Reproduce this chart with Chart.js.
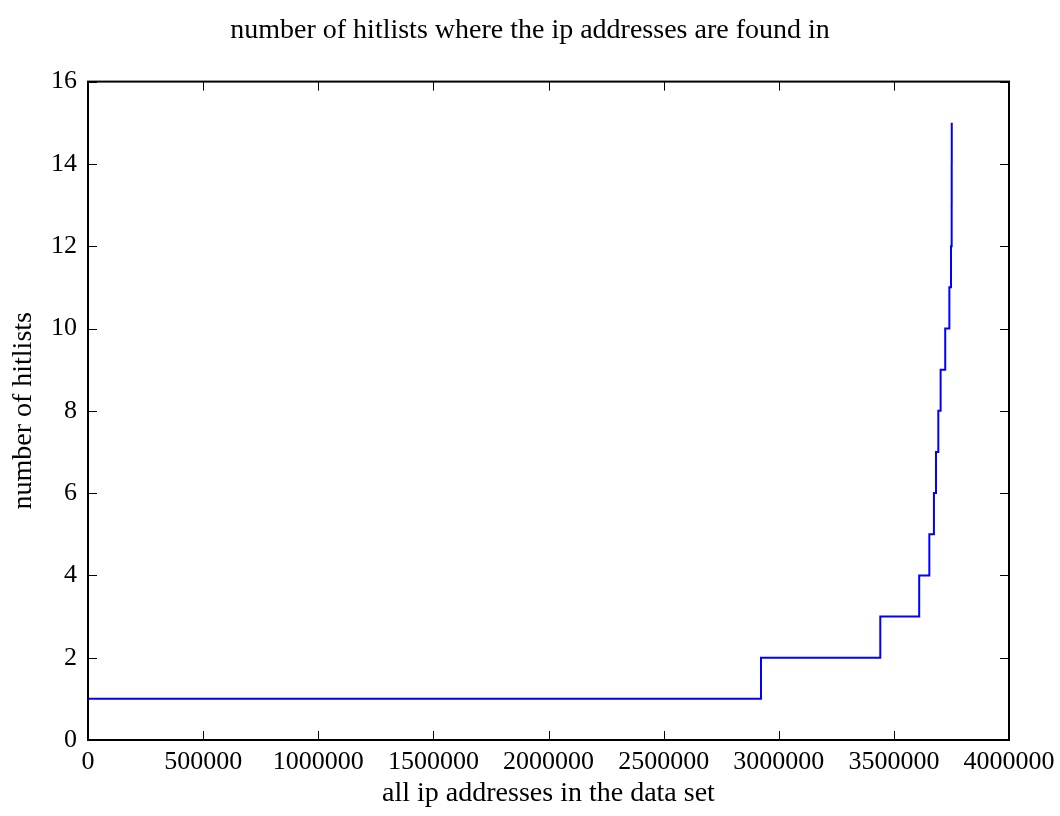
<!DOCTYPE html>
<html>
<head>
<meta charset="utf-8">
<script src="https://cdn.jsdelivr.net/npm/chart.js@4"></script>
<style>
  html, body { margin: 0; padding: 0; background: #fff; }
  #wrap { width: 1060px; height: 816px; }
</style>
</head>
<body>
<div id="wrap"><canvas id="hitChart"></canvas></div>
<script>
// x position (ip index) where each new hitlist count begins
const stepStarts = [0, 2923000, 3441000, 3610000, 3654000, 3674000, 3683000, 3693000,
  3703000, 3723000, 3741000, 3748000, 3751000, 3751200, 3751400];
// number of hitlists from that position on
const hitCounts = [1, 2, 3, 4, 5, 6, 7, 8, 9, 10, 11, 12, 13, 14, 15];
const xTicks = [0, 500000, 1000000, 1500000, 2000000, 2500000, 3000000, 3500000, 4000000];
const yTicks = [0, 2, 4, 6, 8, 10, 12, 14, 16];

const points = stepStarts.map((x, i) => ({ x: x, y: hitCounts[i] }));

// draw the frame and the inward tick marks on all four sides
const frameTicks = {
  id: "frameTicks",
  afterDraw(chart) {
    const ctx = chart.ctx;
    const a = chart.chartArea;
    const xs = chart.scales.x;
    const ys = chart.scales.y;
    const len = 9;
    ctx.save();
    ctx.strokeStyle = "#000";
    ctx.lineWidth = 1;
    ctx.beginPath();
    xTicks.forEach((v) => {
      const px = Math.round(xs.getPixelForValue(v)) + 0.5;
      ctx.moveTo(px, a.bottom);
      ctx.lineTo(px, a.bottom - len);
      ctx.moveTo(px, a.top);
      ctx.lineTo(px, a.top + len);
    });
    yTicks.forEach((v) => {
      const py = Math.round(ys.getPixelForValue(v)) + 0.5;
      ctx.moveTo(a.left, py);
      ctx.lineTo(a.left + len, py);
      ctx.moveTo(a.right, py);
      ctx.lineTo(a.right - len, py);
    });
    ctx.stroke();
    ctx.lineWidth = 2;
    ctx.strokeRect(a.left, a.top, a.right - a.left, a.bottom - a.top);
    ctx.restore();
  },
};

Chart.defaults.font.family = '"Liberation Serif", "DejaVu Serif", serif';
Chart.defaults.color = "#000";

new Chart(document.getElementById("hitChart"), {
  type: "line",
  data: {
    datasets: [{
      data: points,
      borderColor: "#0000ff",
      borderWidth: 2,
      pointRadius: 0,
      stepped: "before",
      fill: false,
    }],
  },
  options: {
    responsive: true,
    maintainAspectRatio: false,
    animation: false,
    layout: { padding: 0 },
    plugins: {
      legend: { display: false },
      tooltip: { enabled: false },
      title: {
        display: true,
        text: "number of hitlists where the ip addresses are found in",
        font: { size: 28, weight: "normal" },
        padding: { top: 14, bottom: 34 },
      },
    },
    scales: {
      x: {
        type: "linear",
        min: 0,
        max: 4000000,
        afterBuildTicks: (s) => { s.ticks = xTicks.map((v) => ({ value: v })); },
        afterFit: (s) => { s.height = 76; s.paddingLeft = 0; s.paddingRight = 51; },
        grid: { display: false, drawTicks: false },
        border: { display: false },
        ticks: { font: { size: 26 }, padding: 7, maxRotation: 0, callback: (v) => String(v) },
        title: { display: true, text: "all ip addresses in the data set", font: { size: 28 }, padding: { top: 0, bottom: 6 } },
      },
      y: {
        min: 0,
        max: 16,
        afterBuildTicks: (s) => { s.ticks = yTicks.map((v) => ({ value: v })); },
        afterFit: (s) => { s.width = 88; },
        grid: { display: false, drawTicks: false },
        border: { display: false },
        ticks: { font: { size: 26 }, padding: 11 },
        title: { display: true, text: "number of hitlists", font: { size: 28 }, padding: { top: 7, bottom: 0 } },
      },
    },
  },
  plugins: [frameTicks],
});
</script>
</body>
</html>
